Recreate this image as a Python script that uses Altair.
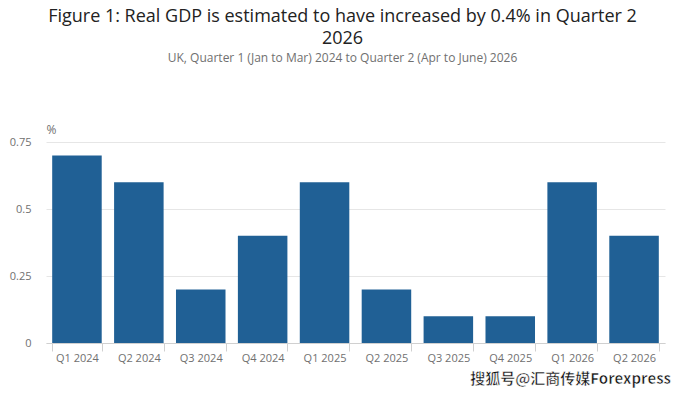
import altair as alt
import pandas as pd

quarters = ["Q1 2024", "Q2 2024", "Q3 2024", "Q4 2024", "Q1 2025",
            "Q2 2025", "Q3 2025", "Q4 2025", "Q1 2026", "Q2 2026"]
growth = [0.7, 0.6, 0.2, 0.4, 0.6, 0.2, 0.1, 0.1, 0.6, 0.4]
y_ticks = [0, 0.25, 0.5, 0.75]
watermark = "搜狐号@汇商传媒Forexpress"

df = pd.DataFrame({"quarter": quarters, "growth": growth})

FONT = "Open Sans"

bars = alt.Chart(df).mark_bar(color="#206095").encode(
    x=alt.X("quarter:N", sort=quarters, title=None,
            scale=alt.Scale(paddingInner=0.2, paddingOuter=0.1),
            axis=alt.Axis(labelAngle=0, labelColor="#707070", labelFontSize=11,
                          labelFont=FONT, tickBand="extent", tickColor="#d0d0d0",
                          tickSize=8, domainColor="#d0d0d0", labelPadding=1)),
    y=alt.Y("growth:Q", title="%",
            scale=alt.Scale(domain=[0, 0.75], nice=False),
            axis=alt.Axis(values=y_ticks, labelExpr="'' + datum.value",
                          labelColor="#707070",
                          labelFontSize=11, labelFont=FONT, domain=False, ticks=False,
                          labelPadding=15, gridColor="#e6e6e6",
                          titleAngle=0, titleX=0, titleY=-6, titleAlign="left",
                          titleBaseline="bottom", titleColor="#707070",
                          titleFontSize=12, titleFontWeight="normal", titleFont=FONT)),
)

wm = alt.Chart(pd.DataFrame({"t": [watermark]})).mark_text(
    align="right", baseline="middle", fontSize=15, fontWeight="bold",
    font="Noto Sans CJK SC", color="#111111", stroke="white", strokeWidth=0.5
).encode(text="t:N", x=alt.value(625), y=alt.value(237))

chart = alt.layer(bars, wm).properties(
    width=619, height=201,
    padding={"left": 1, "top": 0, "right": 5, "bottom": 5},
    title=alt.TitleParams(
        text=["Figure 1: Real GDP is estimated to have increased by 0.4% in Quarter 2", "2026"],
        subtitle="UK, Quarter 1 (Jan to Mar) 2024 to Quarter 2 (Apr to June) 2026",
        font=FONT, fontSize=18, fontWeight="normal", color="#222222",
        lineHeight=22, subtitleFont=FONT, subtitleFontSize=12,
        subtitleColor="#707070", subtitlePadding=5, anchor="middle",
        offset=54, dy=-5, dx=-13,
    ),
).configure_view(stroke=None)

chart.save("out.html", embed_options={"renderer": "svg", "actions": False})
